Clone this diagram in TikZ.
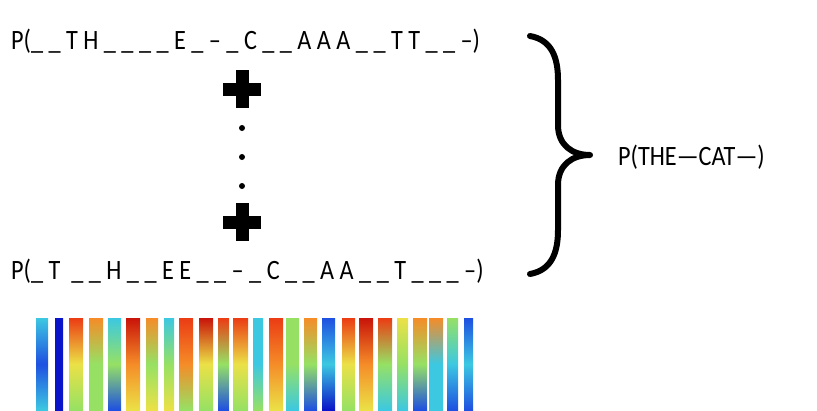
\documentclass[tikz,border=0pt]{standalone}
\usepackage{fontspec}
\setmainfont{Carlito}[FakeStretch=0.865]

\definecolor{jetdred}{RGB}{200,20,10}
\definecolor{jetred}{RGB}{235,60,20}
\definecolor{jetorange}{RGB}{245,140,40}
\definecolor{jetyellow}{RGB}{235,225,70}
\definecolor{jetgreen}{RGB}{150,225,100}
\definecolor{jetcyan}{RGB}{60,200,225}
\definecolor{jetblue}{RGB}{30,80,225}
\definecolor{jetdblue}{RGB}{10,20,200}

\begin{document}
\begin{tikzpicture}[
        x=1pt, y=-1pt,
        path_label/.style={anchor=base west, inner sep=0pt, font=\fontsize{28}{34}\selectfont},
        brace_line/.style={line width=6pt, line cap=round, line join=round},
        dot/.style={circle, fill=black, inner sep=0pt, minimum size=6pt},
        plus_arm/.style={fill=black}
    ]
        \useasboundingbox (0,0) rectangle (817,410);

        % Alignment paths
        \node[path_label] (path_top) at (11,49) {P(\_ \_ T H \_ \_ \_ \_ E \_ – \_ C \_ \_ A A A \_ \_ T T \_ \_ –)};
        \node[path_label] (path_bot) at (11,279) {P(\_ T\ \ \_ \_ H \_ \_ E E \_ \_ – \_ C \_ \_ A A \_ \_ T \_ \_ \_ –)};

        % Sum signs and dots
        \coordinate (plus_top) at (242,89);
        \coordinate (plus_bot) at (242,222);
        \fill[plus_arm] ([shift={(-19,-6.5)}]plus_top) rectangle ([shift={(19,6.5)}]plus_top);
        \fill[plus_arm] ([shift={(-6.5,-19)}]plus_top) rectangle ([shift={(6.5,19)}]plus_top);
        \fill[plus_arm] ([shift={(-19,-6.5)}]plus_bot) rectangle ([shift={(19,6.5)}]plus_bot);
        \fill[plus_arm] ([shift={(-6.5,-19)}]plus_bot) rectangle ([shift={(6.5,19)}]plus_bot);
        \node[dot] (dot_1) at (242,128) {};
        \node[dot] (dot_2) at (242,157) {};
        \node[dot] (dot_3) at (242,186) {};

        % Brace and result
        \draw[brace_line] (530,36) .. controls (552,40) and (558,58) .. (558,80) -- (558,125)
            .. controls (558,145) and (572,155) .. (590,155)
            .. controls (572,155) and (558,165) .. (558,185) -- (558,230)
            .. controls (558,252) and (552,270) .. (530,274);
        \node[path_label] (result) at (618,165) {P(THE—CAT—)};

        % Spectrogram frames
        \foreach \xa/\xb/\ct/\cm/\cb in {
            36/48/jetcyan/jetblue/jetcyan, 55/63/jetdblue/jetdblue/jetdblue,
            69/83/jetred/jetyellow/jetgreen, 89/103/jetorange/jetgreen/jetgreen,
            108/121/jetcyan/jetgreen/jetblue, 126/140/jetdred/jetorange/jetyellow,
            146/158/jetorange/jetgreen/jetyellow, 164/174/jetcyan/jetgreen/jetyellow,
            179/193/jetred/jetorange/jetgreen, 199/213/jetdred/jetyellow/jetgreen,
            218/229/jetred/jetgreen/jetblue, 233/248/jetred/jetyellow/jetgreen,
            253/263/jetcyan/jetcyan/jetgreen, 269/283/jetred/jetorange/jetyellow,
            286/299/jetgreen/jetgreen/jetcyan, 304/317/jetorange/jetgreen/jetblue,
            322/335/jetblue/jetcyan/jetdblue, 342/355/jetred/jetyellow/jetgreen,
            359/373/jetdred/jetorange/jetyellow, 378/392/jetred/jetgreen/jetcyan,
            397/408/jetyellow/jetgreen/jetcyan, 413/427/jetorange/jetgreen/jetblue,
            429/443/jetorange/jetcyan/jetcyan, 447/458/jetgreen/jetcyan/jetblue,
            464/473/jetblue/jetcyan/jetblue}
            \shade[top color=\ct, bottom color=\cb, middle color=\cm] (\xa,318) rectangle (\xb,410);

    \end{tikzpicture}
\end{document}
